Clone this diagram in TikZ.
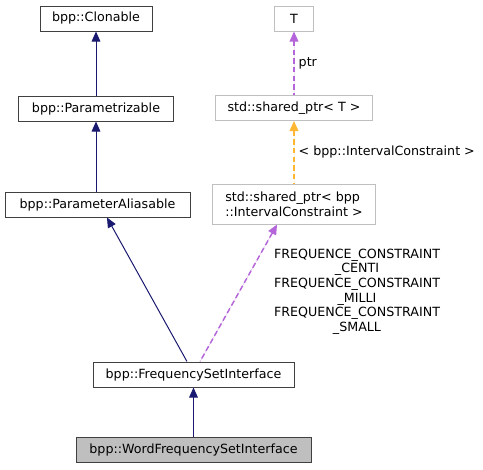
\documentclass[tikz,border=0pt]{standalone}
\usepackage{fontspec}
\setmainfont{DejaVu Sans}
\usetikzlibrary{arrows.meta,positioning}
\definecolor{navy}{HTML}{191970}
\definecolor{orchid}{HTML}{9A32CD}
\definecolor{amber}{HTML}{FFA500}
\definecolor{boxline}{HTML}{404040}
\definecolor{extline}{HTML}{BFBFBF}
\tikzset{cls/.style={draw=boxline,line width=0.75pt,minimum height=18.75pt,inner sep=2pt,font=\fontsize{9.5}{11}\selectfont},
  ext/.style={cls,draw=extline},
  self/.style={cls,fill=extline},
  inh/.style={{Triangle[length=7.5pt,width=6.5pt]}-,navy,line width=0.75pt},
  usage/.style={{Triangle[length=7.5pt,width=6.5pt]}-,draw=orchid!75,fill=orchid,line width=1.1pt,dash pattern=on 4pt off 2.5pt},
  tinst/.style={{Triangle[length=7.5pt,width=6.5pt]}-,draw=amber!80,fill=amber,line width=1.1pt,dash pattern=on 4pt off 2.5pt},
  lbl/.style={black,font=\fontsize{9.5}{11}\selectfont,inner sep=0pt}}

\begin{document}
\begin{tikzpicture}[x=0.75pt,y=-0.75pt]
\useasboundingbox (0,0) rectangle (483,469);
% class hierarchy
\node[cls,minimum width=84pt] (clon) at (96,18.5) {bpp::Clonable};
\node[cls,minimum width=116.25pt] (param) at (96,108.5) {bpp::Parametrizable};
\node[cls,minimum width=138.75pt] (alias) at (97.5,204.5) {bpp::ParameterAliasable};
\node[cls,minimum width=150.75pt] (fsi) at (193.5,374.5) {bpp::FrequencySetInterface};
\node[self,minimum width=176.25pt] (wfsi) at (193.5,449.5) {bpp::WordFrequencySetInterface};
% template side
\node[ext,minimum width=29.25pt] (t) at (294,18.5) {T};
\node[ext,minimum width=117.75pt] (sp) at (294,108) {std::shared\_ptr< T >};
\node[ext,minimum width=122.25pt,minimum height=30pt,align=left] (spic) at (294,204) {std::shared\_ptr< bpp\\::IntervalConstraint >};
\draw[inh] (clon.south) -- (clon.south |- param.north);
\draw[inh] (param.south) -- (param.south |- alias.north);
\draw[inh] ([xshift=7.1pt]alias.south) -- ([xshift=-4.9pt]fsi.north);
\draw[inh] (fsi) -- (wfsi);
\draw[usage] (t) -- (sp) node[lbl,midway,right=3pt] (ptrlbl) {ptr};
\draw[tinst] (sp) -- (spic) node[lbl,midway,right=3pt] (instlbl) {< bpp::IntervalConstraint >};
\draw[usage] ([xshift=-12.7pt]spic.south) -- ([xshift=4.9pt]fsi.north);
\node[lbl,align=center] (cstlbl) at (357,291.5) {FREQUENCE\_CONSTRAINT\\\_CENTI\\FREQUENCE\_CONSTRAINT\\\_MILLI\\FREQUENCE\_CONSTRAINT\\\_SMALL};
\end{tikzpicture}
\end{document}
